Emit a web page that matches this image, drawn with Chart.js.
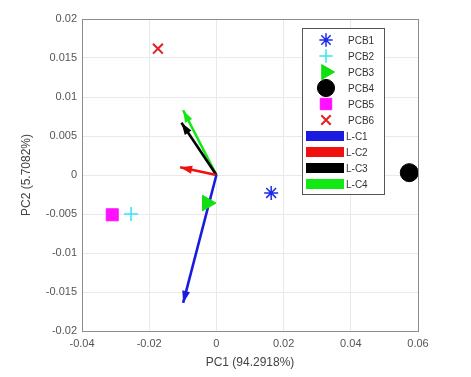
<!DOCTYPE html>
<html>
<head>
<meta charset="utf-8">
<script src="https://cdn.jsdelivr.net/npm/chart.js@4"></script>
<style>
  body { margin: 0; background: #fff; }
  canvas { display: block; }
</style>
</head>
<body>
<canvas id="pcaChart" width="471" height="377"></canvas>
<script>
// scores (samples)
const sampleNames = ["PCB1", "PCB2", "PCB3", "PCB4", "PCB5", "PCB6"];
const scoreX = [0.0163, -0.0254, -0.0028, 0.0574, -0.0310, -0.0174];
const scoreY = [-0.0023, -0.0050, -0.0036, 0.0003, -0.0051, 0.0162];

// loadings (arrow tips, arrows start at origin)
const loadNames = ["L-C1", "L-C2", "L-C3", "L-C4"];
const loadX = [-0.0099, -0.0108, -0.0104, -0.0099];
const loadY = [-0.0164, 0.0010, 0.0067, 0.0083];

const xTicks = [-0.04, -0.02, 0, 0.02, 0.04, 0.06];
const yTicks = [-0.02, -0.015, -0.01, -0.005, 0, 0.005, 0.01, 0.015, 0.02];

const markerStyles = [
  { pointStyle: "star", color: "#1f2be8", radius: 7, rotation: 0, width: 1.5 },
  { pointStyle: "cross", color: "#33e6f0", radius: 7, rotation: 0, width: 1.5 },
  { pointStyle: "triangle", color: "#10e010", radius: 9, rotation: 90, width: 1, fill: true },
  { pointStyle: "circle", color: "#000000", radius: 9, rotation: 0, width: 1, fill: true },
  { pointStyle: "rect", color: "#ff10ff", radius: 8.5, rotation: 0, width: 1, fill: true },
  { pointStyle: "crossRot", color: "#e02020", radius: 7, rotation: 0, width: 2 }
];
const arrowColors = ["#1b1be0", "#f01010", "#000000", "#12e812"];

const datasets = [];
sampleNames.forEach((name, i) => {
  const m = markerStyles[i];
  datasets.push({
    label: name,
    data: [{ x: scoreX[i], y: scoreY[i] }],
    pointStyle: m.pointStyle,
    pointRadius: m.radius,
    pointRotation: m.rotation,
    pointBorderWidth: m.width,
    borderColor: m.color,
    backgroundColor: m.fill ? m.color : "transparent",
    order: 1
  });
});
loadNames.forEach((name, i) => {
  datasets.push({
    label: name,
    data: [{ x: 0, y: 0 }, { x: loadX[i], y: loadY[i] }],
    showLine: true,
    borderColor: arrowColors[i],
    backgroundColor: arrowColors[i],
    borderWidth: 2.6,
    pointRadius: 0,
    isArrow: true,
    order: 2
  });
});

const arrowHeads = {
  id: "arrowHeads",
  afterDatasetsDraw(chart) {
    const ctx = chart.ctx;
    const xs = chart.scales.x, ys = chart.scales.y;
    chart.data.datasets.forEach(ds => {
      if (!ds.isArrow) return;
      const x0 = xs.getPixelForValue(ds.data[0].x), y0 = ys.getPixelForValue(ds.data[0].y);
      const x1 = xs.getPixelForValue(ds.data[1].x), y1 = ys.getPixelForValue(ds.data[1].y);
      const a = Math.atan2(y1 - y0, x1 - x0);
      const len = 12, hw = 4;
      ctx.save();
      ctx.fillStyle = ds.borderColor;
      ctx.beginPath();
      ctx.moveTo(x1, y1);
      ctx.lineTo(x1 - len * Math.cos(a) + hw * Math.sin(a), y1 - len * Math.sin(a) - hw * Math.cos(a));
      ctx.lineTo(x1 - len * Math.cos(a) - hw * Math.sin(a), y1 - len * Math.sin(a) + hw * Math.cos(a));
      ctx.closePath();
      ctx.fill();
      ctx.restore();
    });
  }
};

const frameAndLegend = {
  id: "frameAndLegend",
  afterDraw(chart) {
    const ctx = chart.ctx;
    const a = chart.chartArea;
    ctx.save();
    ctx.strokeStyle = "#8c8c8c";
    ctx.lineWidth = 1;
    ctx.strokeRect(Math.round(a.left) + 0.5, Math.round(a.top) + 0.5,
      Math.round(a.right - a.left), Math.round(a.bottom - a.top));

    // legend box
    const bx = 302, by = 28, bw = 82, bh = 166;
    ctx.fillStyle = "#fff";
    ctx.fillRect(bx, by, bw, bh);
    ctx.strokeStyle = "#555";
    ctx.strokeRect(bx + 0.5, by + 0.5, bw, bh);
    ctx.font = "10px 'Liberation Sans', Arial, sans-serif";
    ctx.textBaseline = "middle";
    ctx.fillStyle = "#333";
    sampleNames.forEach((name, i) => {
      const m = markerStyles[i];
      const y = 40 + i * 16;
      ctx.strokeStyle = m.color;
      ctx.fillStyle = m.fill ? m.color : "transparent";
      ctx.lineWidth = m.width;
      Chart.helpers.drawPoint(ctx, {
        pointStyle: m.pointStyle, radius: m.radius * 0.95, rotation: m.rotation, borderWidth: m.width
      }, 326, y);
      ctx.fillStyle = "#333";
      ctx.fillText(name, 348, y + 1);
    });
    loadNames.forEach((name, i) => {
      const y = 136 + i * 16;
      ctx.fillStyle = arrowColors[i];
      ctx.fillRect(306, y - 5, 38, 10);
      ctx.fillStyle = "#333";
      ctx.fillText(name, 346, y + 1);
    });
    ctx.restore();
  }
};

const fmt = v => String(Number(v.toFixed(3)));

new Chart(document.getElementById("pcaChart").getContext("2d"), {
  type: "scatter",
  data: { datasets: datasets },
  options: {
    responsive: false,
    animation: false,
    layout: { padding: { top: 19, right: 53, left: 0, bottom: 0 } },
    plugins: {
      legend: { display: false },
      tooltip: { enabled: false }
    },
    scales: {
      x: {
        type: "linear",
        min: -0.04, max: 0.06,
        afterBuildTicks: s => { s.ticks = xTicks.map(v => ({ value: v })); },
        afterFit: s => { s.height = 46; },
        ticks: { callback: fmt, color: "#555", font: { size: 11, family: "'Liberation Sans', Arial" }, padding: 6, maxRotation: 0 },
        grid: { color: "#e9e9e9", drawTicks: false },
        border: { color: "#8c8c8c" },
        title: { display: true, text: "PC1 (94.2918%)", color: "#444", font: { size: 12, family: "'Liberation Sans', Arial" }, padding: { top: 0, bottom: 7 } }
      },
      y: {
        type: "linear",
        min: -0.02, max: 0.02,
        afterBuildTicks: s => { s.ticks = yTicks.map(v => ({ value: v })); },
        afterFit: s => { s.width = 82; },
        ticks: { callback: fmt, color: "#555", font: { size: 11, family: "'Liberation Sans', Arial" }, padding: 5 },
        grid: { color: "#e9e9e9", drawTicks: false },
        border: { color: "#8c8c8c" },
        title: { display: true, text: "PC2 (5.7082%)", color: "#444", font: { size: 12, family: "'Liberation Sans', Arial" }, padding: { top: 19, bottom: 0 } }
      }
    }
  },
  plugins: [arrowHeads, frameAndLegend]
});
</script>
</body>
</html>
